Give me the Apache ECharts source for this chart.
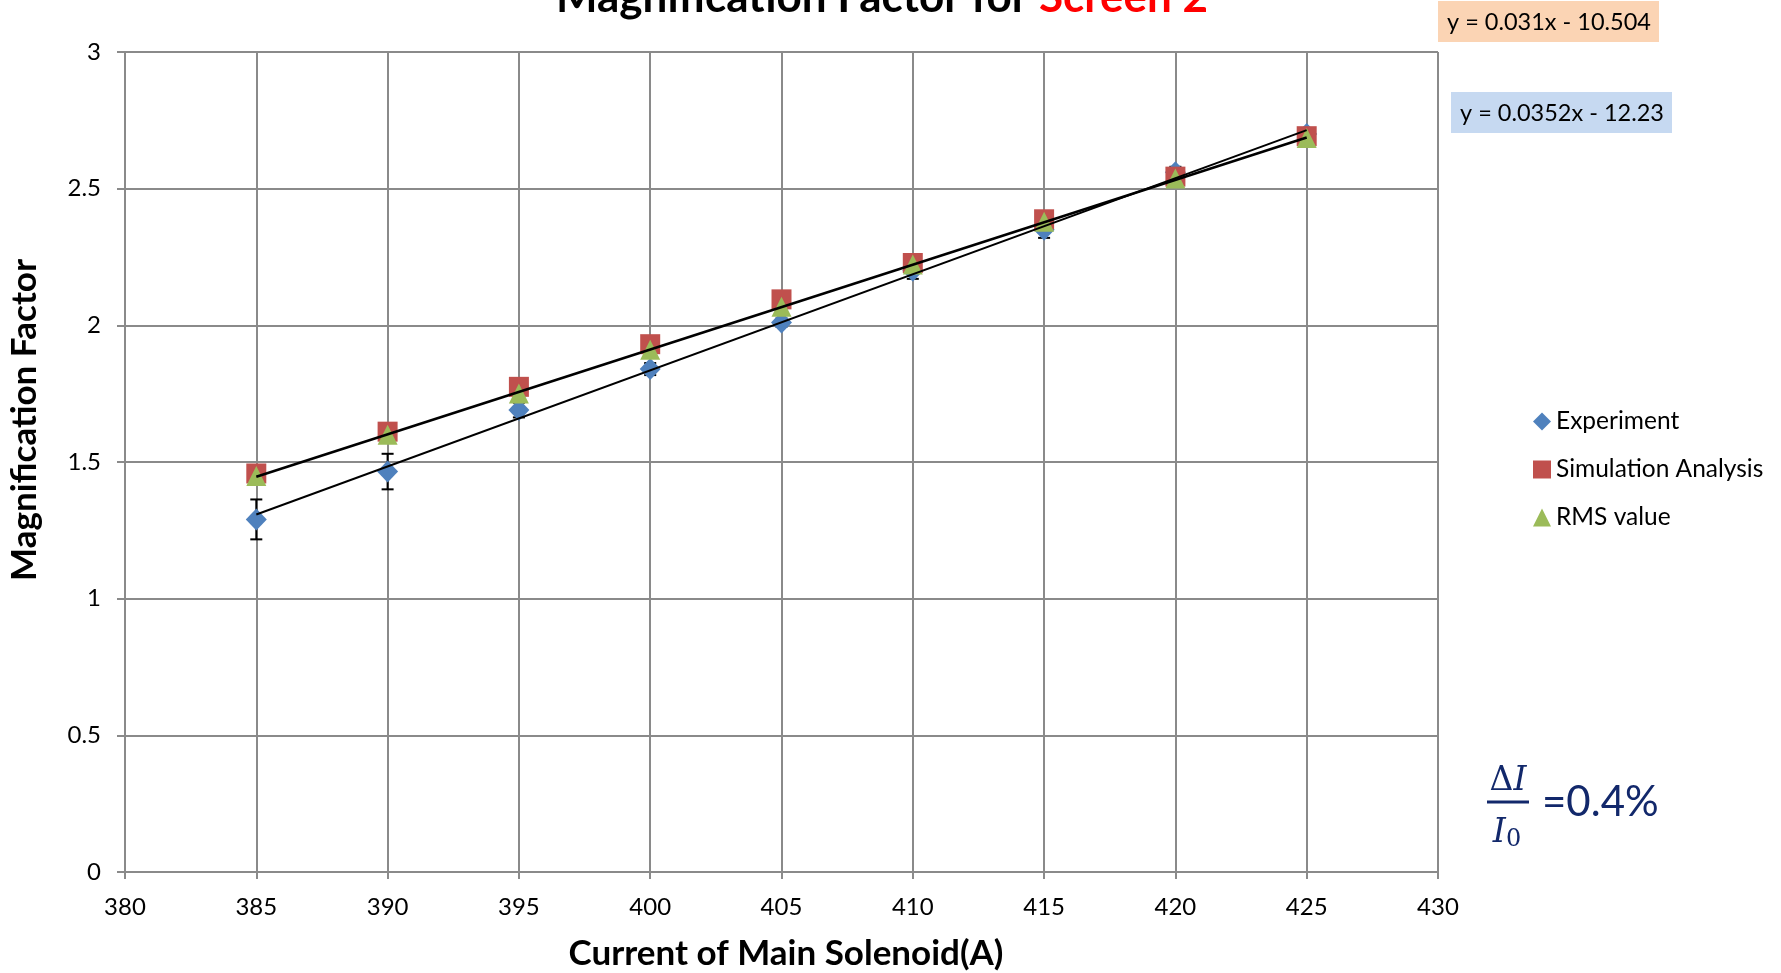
<!DOCTYPE html>
<html><head><meta charset="utf-8">
<script src="https://cdn.jsdelivr.net/npm/echarts@6/dist/echarts.min.js"></script>
<style>html,body{margin:0;padding:0;background:#fff}#c{width:1781px;height:973px}</style>
</head><body><div id="c"></div><script>
// ---- data ----
const currents = [385, 390, 395, 400, 405, 410, 415, 420, 425];
const experiment = [1.29, 1.465, 1.69, 1.84, 2.01, 2.20, 2.35, 2.56, 2.70];
const experimentErr = [0.073, 0.065, 0.027, 0.022, 0.015, 0.03, 0.03, 0.02, 0.02];
const simulation = [1.458, 1.611, 1.775, 1.931, 2.095, 2.228, 2.388, 2.544, 2.692];
const rmsValue = [1.449, 1.60, 1.751, 1.911, 2.068, 2.223, 2.379, 2.537, 2.685];
const expTrendX = [385, 425];
const expTrendY = [1.308, 2.714];
const simTrendX = [385, 425];
const simTrendY = [1.446, 2.687];
const xAxisRange = [380, 430, 5];
const yAxisRange = [0, 3, 0.5];
const seriesNames = ['Experiment', 'Simulation Analysis', 'RMS value'];
const eqSim = 'y = 0.031x - 10.504';
const eqExp = 'y = 0.0352x - 12.23';

const pair = (xs, ys) => xs.map((x, i) => [x, ys[i]]);
const gridColor = '#8a8a8a';
const chart = echarts.init(document.getElementById('c'), null, {renderer: 'canvas'});
const navy = '#12286B';
chart.setOption({
  animation: false,
  backgroundColor: '#fff',
  title: {
    text: '{a|Magnification Factor for }{b|Screen 2}',
    left: 551, top: -31,
    textStyle: {
      rich: {
        a: {fontFamily: 'Lato', fontWeight: 'bold', fontSize: 44, color: '#000', lineHeight: 48},
        b: {fontFamily: 'Lato', fontWeight: 'bold', fontSize: 44, color: '#FF0000', lineHeight: 48}
      }
    }
  },
  grid: {left: 125, right: 343, top: 52, bottom: 101, containLabel: false},
  legend: {
    orient: 'vertical', left: 1528, top: 404,
    itemWidth: 18, itemHeight: 18, itemGap: 23,
    textStyle: {fontFamily: 'Lato', fontSize: 24.5, color: '#000', lineHeight: 18},
    data: [
      {name: seriesNames[0], icon: 'diamond'},
      {name: seriesNames[1], icon: 'rect'},
      {name: seriesNames[2], icon: 'triangle'}
    ]
  },
  xAxis: {
    type: 'value', min: xAxisRange[0], max: xAxisRange[1], interval: xAxisRange[2],
    axisLine: {lineStyle: {color: gridColor, width: 2}},
    axisTick: {show: true, length: 7, lineStyle: {color: gridColor, width: 2}},
    axisLabel: {fontFamily: 'Lato', fontSize: 24, color: '#000', margin: 23},
    splitLine: {show: true, lineStyle: {color: gridColor, width: 2}}
  },
  yAxis: {
    type: 'value', min: yAxisRange[0], max: yAxisRange[1], interval: yAxisRange[2],
    axisLine: {show: true, lineStyle: {color: gridColor, width: 2}},
    axisTick: {show: true, length: 8, lineStyle: {color: gridColor, width: 2}},
    axisLabel: {fontFamily: 'Lato', fontSize: 24, color: '#000', margin: 24},
    splitLine: {show: true, lineStyle: {color: gridColor, width: 2}}
  },
  series: [
    {
      type: 'custom', name: 'errbar', z: 2, silent: true,
      data: currents.map((x, i) => [x, experiment[i] - experimentErr[i], experiment[i] + experimentErr[i]]),
      encode: {x: 0, y: [1, 2]},
      renderItem: (params, api) => {
        const x = api.value(0);
        const lo = api.coord([x, api.value(1)]);
        const hi = api.coord([x, api.value(2)]);
        const hw = 6;
        const st = {stroke: '#000', lineWidth: 2};
        return {type: 'group', children: [
          {type: 'line', shape: {x1: lo[0], y1: lo[1], x2: hi[0], y2: hi[1]}, style: st},
          {type: 'line', shape: {x1: lo[0] - hw, y1: lo[1], x2: lo[0] + hw, y2: lo[1]}, style: st},
          {type: 'line', shape: {x1: hi[0] - hw, y1: hi[1], x2: hi[0] + hw, y2: hi[1]}, style: st}
        ]};
      }
    },
    {type: 'scatter', name: seriesNames[0], z: 3, symbol: 'diamond', symbolSize: [21, 22],
      itemStyle: {color: '#4F81BD', opacity: 1}, data: pair(currents, experiment)},
    {type: 'scatter', name: seriesNames[1], z: 4, symbol: 'rect', symbolSize: 20,
      itemStyle: {color: '#C0504D', opacity: 1}, data: pair(currents, simulation)},
    {type: 'scatter', name: seriesNames[2], z: 5, symbol: 'triangle', symbolSize: [20, 20],
      itemStyle: {color: '#9BBB59', opacity: 1}, data: pair(currents, rmsValue)},
    {type: 'line', name: 'expTrend', z: 6, symbol: 'none', silent: true,
      lineStyle: {color: '#000', width: 2}, data: pair(expTrendX, expTrendY)},
    {type: 'line', name: 'simTrend', z: 6, symbol: 'none', silent: true,
      lineStyle: {color: '#000', width: 2.6}, data: pair(simTrendX, simTrendY)}
  ],
  graphic: [
    {type: 'text', x: 25, y: 420, rotation: Math.PI / 2,
      style: {text: 'Magnification Factor', font: 'bold 35px Lato', fill: '#000', align: 'center', verticalAlign: 'middle'}},
    {type: 'text', x: 786, y: 954,
      style: {text: 'Current of Main Solenoid(A)', font: 'bold 35px Lato', fill: '#000', align: 'center', verticalAlign: 'middle'}},
    {type: 'rect', shape: {x: 1438, y: 1, width: 221, height: 41}, style: {fill: '#FBD4B4'}},
    {type: 'text', x: 1447, y: 22,
      style: {text: eqSim, font: '23.5px Lato', fill: '#000', align: 'left', verticalAlign: 'middle'}},
    {type: 'rect', shape: {x: 1451, y: 92, width: 221, height: 41}, style: {fill: '#C6D9F1'}},
    {type: 'text', x: 1460, y: 113,
      style: {text: eqExp, font: '23.5px Lato', fill: '#000', align: 'left', verticalAlign: 'middle'}},
    {type: 'text', x: 1508, y: 781,
      style: {text: '{d|Δ}{i|I}', align: 'center', verticalAlign: 'middle',
        rich: {d: {font: '33px "DejaVu Serif"', fill: navy}, i: {font: 'italic 33px "DejaVu Serif"', fill: navy}}}},
    {type: 'rect', shape: {x: 1487, y: 800.5, width: 42, height: 3}, style: {fill: navy}},
    {type: 'text', x: 1507, y: 833,
      style: {text: '{i|I}{s|0}', align: 'center', verticalAlign: 'middle',
        rich: {i: {font: 'italic 33px "DejaVu Serif"', fill: navy}, s: {font: '24px "DejaVu Serif"', fill: navy, padding: [14, 0, 0, 0]}}}},
    {type: 'text', x: 1542, y: 802,
      style: {text: '=0.4%', font: '42px Lato', fill: navy, align: 'left', verticalAlign: 'middle'}}
  ]
});
</script></body></html>
